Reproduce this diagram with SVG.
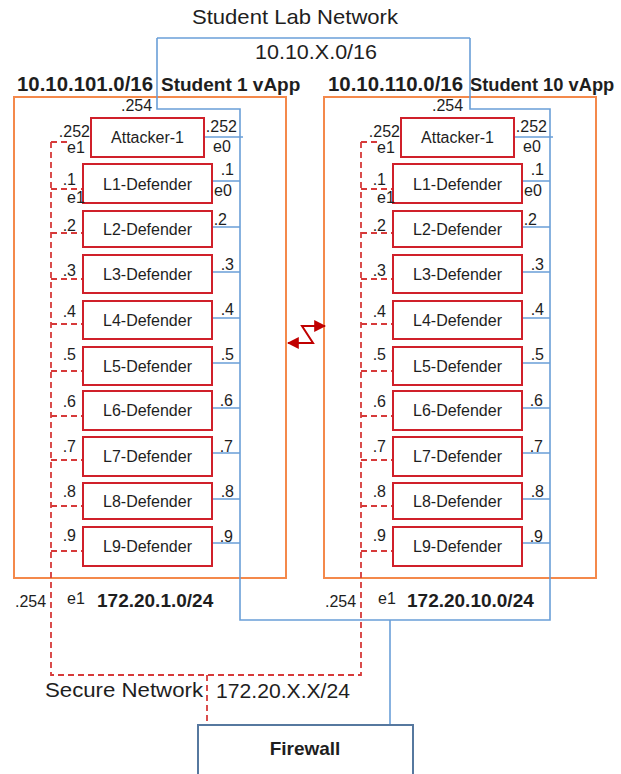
<svg xmlns="http://www.w3.org/2000/svg" width="621" height="774" viewBox="0 0 621 774">
  <defs>
    <style>
      .t { font-family: "Liberation Sans", Arial, sans-serif; fill: #1e1e1e; font-size: 16px; }
      .s21 { font-size: 21px; }
      .s20 { font-size: 20px; }
      .s19 { font-size: 19px; }
      .s18 { font-size: 18.3px; }
      .b { font-weight: bold; }
      .c { text-anchor: middle; }
      .e { text-anchor: end; }
      .box { fill: #ffffff; stroke: #d0202a; stroke-width: 2; }
      .vapp { fill: none; stroke: #f4894b; stroke-width: 2; }
      .net { fill: none; stroke: #6a9fd8; stroke-width: 1.6; }
      .sec { fill: none; stroke: #d63a3a; stroke-width: 1.8; stroke-dasharray: 6 4; }
      .fw { fill: #ffffff; stroke: #56789f; stroke-width: 2; }
      .zig { fill: none; stroke: #c00000; stroke-width: 2; }
    </style>
    <marker id="ah" viewBox="0 0 10 10" refX="9" refY="5" markerWidth="6" markerHeight="6" orient="auto-start-reverse" markerUnits="strokeWidth">
      <path d="M0 0 L10 5 L0 10 Z" fill="#c00000"/>
    </marker>
  </defs>
  <rect width="621" height="774" fill="#ffffff"/>

  <!-- network titles -->
  <text class="t s21" x="192" y="24" textLength="206" lengthAdjust="spacingAndGlyphs">Student Lab Network</text>
  <text class="t s21" x="255" y="59" textLength="122" lengthAdjust="spacingAndGlyphs">10.10.X.0/16</text>
  <text class="t s21" x="45" y="697" textLength="158" lengthAdjust="spacingAndGlyphs">Secure Network</text>
  <text class="t s21" x="216" y="698" textLength="134" lengthAdjust="spacingAndGlyphs">172.20.X.X/24</text>

  <!-- vApp frames -->
  <g id="vapp-student1">
    <rect class="vapp" x="14" y="97" width="272" height="481"/>
    <text class="t b s20" x="17" y="91" textLength="136" lengthAdjust="spacingAndGlyphs">10.10.101.0/16</text>
    <text class="t b s19" x="161" y="91">Student 1 vApp</text>
    <text class="t" x="121" y="111">.254</text>
    <text class="t" x="15" y="607">.254</text>
    <text class="t" x="67" y="604">e1</text>
    <text class="t b s19" x="97" y="607">172.20.1.0/24</text>
  </g>
  <g id="vapp-student10">
    <rect class="vapp" x="324" y="97" width="272" height="481"/>
    <text class="t b s20" x="328" y="91" textLength="135" lengthAdjust="spacingAndGlyphs">10.10.110.0/16</text>
    <text class="t b s18" x="470" y="91">Student 10 vApp</text>
    <text class="t" x="432" y="111">.254</text>
    <text class="t" x="325" y="607">.254</text>
    <text class="t" x="378" y="604">e1</text>
    <text class="t b s19" x="407" y="607">172.20.10.0/24</text>
  </g>

  <!-- connectors -->
  <g id="connectors">
    <!-- student lab network (blue) -->
    <path class="net" d="M157 38 H470"/>
    <path class="net" d="M157 38 V109 H240 V620 H550 V109 H470 V38"/>
    <path class="net" d="M390 620 V725"/>
    <path class="net" d="M204 137 H243 M212 181 H240 M212 227 H240 M212 272 H240 M212 318 H240 M212 363 H240 M212 408 H240 M212 453 H240 M212 499 H240 M212 543 H240"/>
    <path class="net" d="M514 137 H553 M522 181 H550 M522 227 H550 M522 272 H550 M522 318 H550 M522 363 H550 M522 408 H550 M522 453 H550 M522 499 H550 M522 543 H550"/>
    <!-- secure network (red dashed) -->
    <path class="sec" d="M51 142 V675 H361 V142"/>
    <path class="sec" d="M207 675 V725"/>
    <path class="sec" d="M51 142 H68 M51 189 H83 M51 233 H83 M51 279 H83 M51 324 H83 M51 371 H83 M51 416 H83 M51 460 H83 M51 506 H83 M51 551 H83"/>
    <path class="sec" d="M361 142 H378 M361 189 H393 M361 233 H393 M361 279 H393 M361 324 H393 M361 371 H393 M361 416 H393 M361 460 H393 M361 506 H393 M361 551 H393"/>
    <!-- link between vApps -->
    <path class="zig" d="M288 343 H313 L302 326 H325" marker-start="url(#ah)" marker-end="url(#ah)"/>
  </g>

  <!-- Student 1 machines -->
  <g id="s1-attacker">
    <rect class="box" x="91" y="118" width="113" height="39"/>
    <text class="t c" x="147.5" y="143">Attacker-1</text>
    <text class="t e" x="90" y="137">.252</text>
    <text class="t" x="67" y="153">e1</text>
    <text class="t e" x="237" y="132">.252</text>
    <text class="t" x="213" y="152">e0</text>
  </g>
  <g id="s1-l1">
    <rect class="box" x="83" y="164" width="129" height="39"/>
    <text class="t c" x="147.5" y="189.5">L1-Defender</text>
    <text class="t e" x="76" y="185">.1</text>
    <text class="t" x="67" y="203">e1</text>
    <text class="t e" x="234" y="175">.1</text>
    <text class="t" x="214" y="196">e0</text>
  </g>
  <g id="s1-l2">
    <rect class="box" x="83" y="211" width="129" height="36"/>
    <text class="t c" x="147.5" y="235">L2-Defender</text>
    <text class="t e" x="76" y="231">.2</text>
    <text class="t e" x="227" y="225">.2</text>
  </g>
  <g id="s1-l3">
    <rect class="box" x="83" y="255" width="129" height="38"/>
    <text class="t c" x="147.5" y="280">L3-Defender</text>
    <text class="t e" x="76" y="276">.3</text>
    <text class="t e" x="234" y="270">.3</text>
  </g>
  <g id="s1-l4">
    <rect class="box" x="83" y="301" width="129" height="38"/>
    <text class="t c" x="147.5" y="326">L4-Defender</text>
    <text class="t e" x="76" y="317">.4</text>
    <text class="t e" x="234" y="315">.4</text>
  </g>
  <g id="s1-l5">
    <rect class="box" x="83" y="347" width="129" height="38"/>
    <text class="t c" x="147.5" y="372">L5-Defender</text>
    <text class="t e" x="76" y="360">.5</text>
    <text class="t e" x="234" y="360">.5</text>
  </g>
  <g id="s1-l6">
    <rect class="box" x="83" y="391" width="129" height="39"/>
    <text class="t c" x="147.5" y="416">L6-Defender</text>
    <text class="t e" x="76" y="407">.6</text>
    <text class="t e" x="233" y="406">.6</text>
  </g>
  <g id="s1-l7">
    <rect class="box" x="83" y="437" width="129" height="39"/>
    <text class="t c" x="147.5" y="462">L7-Defender</text>
    <text class="t e" x="76" y="452">.7</text>
    <text class="t e" x="233" y="452">.7</text>
  </g>
  <g id="s1-l8">
    <rect class="box" x="83" y="483" width="129" height="36"/>
    <text class="t c" x="147.5" y="507">L8-Defender</text>
    <text class="t e" x="76" y="497">.8</text>
    <text class="t e" x="234" y="497">.8</text>
  </g>
  <g id="s1-l9">
    <rect class="box" x="83" y="527" width="129" height="39"/>
    <text class="t c" x="147.5" y="552">L9-Defender</text>
    <text class="t e" x="76" y="541">.9</text>
    <text class="t e" x="233" y="542">.9</text>
  </g>

  <!-- Student 10 machines -->
  <g id="s10-attacker">
    <rect class="box" x="401" y="118" width="113" height="39"/>
    <text class="t c" x="457.5" y="143">Attacker-1</text>
    <text class="t e" x="400" y="137">.252</text>
    <text class="t" x="377" y="153">e1</text>
    <text class="t e" x="547" y="132">.252</text>
    <text class="t" x="523" y="152">e0</text>
  </g>
  <g id="s10-l1">
    <rect class="box" x="393" y="164" width="129" height="39"/>
    <text class="t c" x="457.5" y="189.5">L1-Defender</text>
    <text class="t e" x="386" y="185">.1</text>
    <text class="t" x="377" y="203">e1</text>
    <text class="t e" x="544" y="175">.1</text>
    <text class="t" x="524" y="196">e0</text>
  </g>
  <g id="s10-l2">
    <rect class="box" x="393" y="211" width="129" height="36"/>
    <text class="t c" x="457.5" y="235">L2-Defender</text>
    <text class="t e" x="386" y="231">.2</text>
    <text class="t e" x="537" y="225">.2</text>
  </g>
  <g id="s10-l3">
    <rect class="box" x="393" y="255" width="129" height="38"/>
    <text class="t c" x="457.5" y="280">L3-Defender</text>
    <text class="t e" x="386" y="276">.3</text>
    <text class="t e" x="544" y="270">.3</text>
  </g>
  <g id="s10-l4">
    <rect class="box" x="393" y="301" width="129" height="38"/>
    <text class="t c" x="457.5" y="326">L4-Defender</text>
    <text class="t e" x="386" y="317">.4</text>
    <text class="t e" x="544" y="315">.4</text>
  </g>
  <g id="s10-l5">
    <rect class="box" x="393" y="347" width="129" height="38"/>
    <text class="t c" x="457.5" y="372">L5-Defender</text>
    <text class="t e" x="386" y="360">.5</text>
    <text class="t e" x="544" y="360">.5</text>
  </g>
  <g id="s10-l6">
    <rect class="box" x="393" y="391" width="129" height="39"/>
    <text class="t c" x="457.5" y="416">L6-Defender</text>
    <text class="t e" x="386" y="407">.6</text>
    <text class="t e" x="543" y="406">.6</text>
  </g>
  <g id="s10-l7">
    <rect class="box" x="393" y="437" width="129" height="39"/>
    <text class="t c" x="457.5" y="462">L7-Defender</text>
    <text class="t e" x="386" y="452">.7</text>
    <text class="t e" x="543" y="452">.7</text>
  </g>
  <g id="s10-l8">
    <rect class="box" x="393" y="483" width="129" height="36"/>
    <text class="t c" x="457.5" y="507">L8-Defender</text>
    <text class="t e" x="386" y="497">.8</text>
    <text class="t e" x="544" y="497">.8</text>
  </g>
  <g id="s10-l9">
    <rect class="box" x="393" y="527" width="129" height="39"/>
    <text class="t c" x="457.5" y="552">L9-Defender</text>
    <text class="t e" x="386" y="541">.9</text>
    <text class="t e" x="543" y="542">.9</text>
  </g>

  <!-- firewall -->
  <g id="firewall">
    <rect class="fw" x="198" y="725" width="215" height="60"/>
    <text class="t b c s19" x="305" y="755">Firewall</text>
  </g>
</svg>
